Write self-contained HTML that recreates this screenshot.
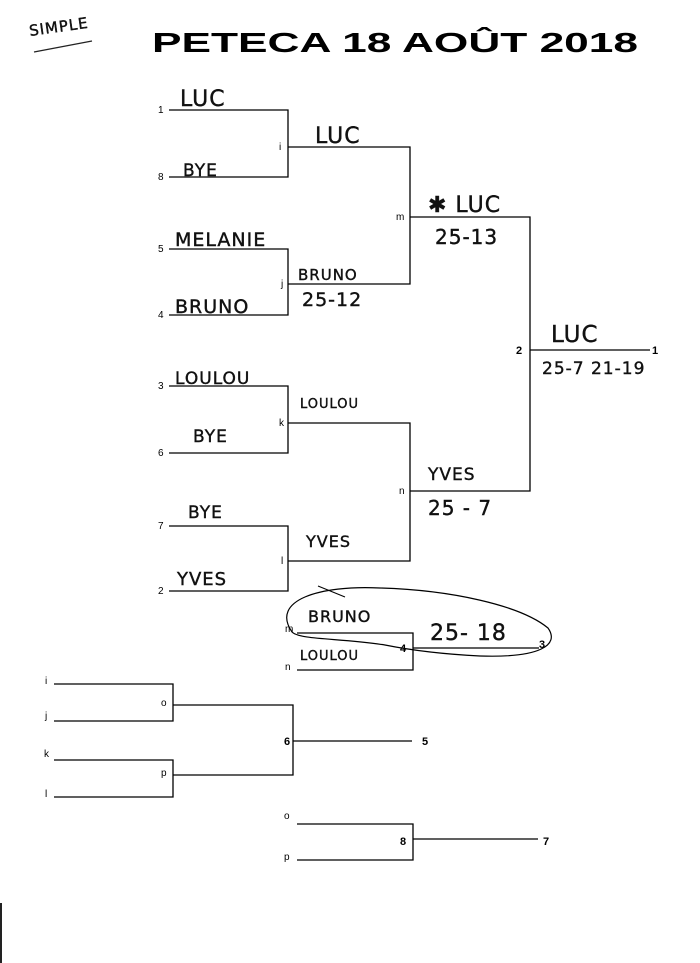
<!DOCTYPE html>
<html><head><meta charset="utf-8"><style>
html,body{margin:0;padding:0;background:#fff;width:700px;height:963px;overflow:hidden}
svg{display:block}
.n{font-family:"Liberation Sans",sans-serif;font-size:10px;fill:#000}
.b{font-family:"Liberation Sans",sans-serif;font-size:11px;font-weight:bold;fill:#000}
.h{font-family:"DejaVu Sans","Liberation Sans",sans-serif;fill:#111;stroke:#111;stroke-width:0.4;letter-spacing:1px}
</style></head><body>
<svg width="700" height="963" viewBox="0 0 700 963" xmlns="http://www.w3.org/2000/svg">
<rect x="0" y="903" width="2" height="60" fill="#222"/>
<text x="30" y="36" class="h" font-size="15" transform="rotate(-8 30 36)">SIMPLE</text>
<path d="M34 52 L92 41" stroke="#222" stroke-width="1.2" fill="none"/>
<text x="152" y="52" font-family="Liberation Sans,sans-serif" font-weight="bold" font-size="28" textLength="486" lengthAdjust="spacingAndGlyphs" fill="#000">PETECA 18 AOÛT 2018</text>
<g stroke="#000" stroke-width="1.3" fill="none">
<path d="M169 110H288V177H169M288 147H410V284H288M169 249H288V315H169M410 217H530V491H410M530 350H650"/>
<path d="M169 386H288V453H169M288 423H410V561H288M169 526H288V591H169"/>
<path d="M297 633H413V670H297M413 648H539"/>
<path d="M54 684H173V721H54M173 705H293V775H173M54 760H173V797H54M293 741H412"/>
<path d="M297 824H413V860H297M413 839H538"/>
<path d="M292 632 C270 600 320 585 380 588 C450 590 520 605 548 628 C560 645 540 658 480 656 C440 654 410 650 385 645 C340 638 300 640 292 632" stroke-width="1.2"/>
<path d="M318 586 L345 597" stroke-width="1"/>
</g>
<g class="n">
<text x="158" y="113">1</text><text x="158" y="180">8</text><text x="158" y="252">5</text><text x="158" y="318">4</text>
<text x="158" y="389">3</text><text x="158" y="456">6</text><text x="158" y="529">7</text><text x="158" y="594">2</text>
<text x="279" y="150">i</text><text x="281" y="287">j</text><text x="396" y="220">m</text>
<text x="279" y="426">k</text><text x="281" y="564">l</text><text x="399" y="494">n</text>
<text x="285" y="632">m</text><text x="285" y="670">n</text>
<text x="45" y="684">i</text><text x="45" y="719">j</text><text x="44" y="757">k</text><text x="45" y="797">l</text>
<text x="161" y="706">o</text><text x="161" y="776">p</text>
<text x="284" y="819">o</text><text x="284" y="860">p</text>
</g>
<g class="b">
<text x="516" y="354">2</text><text x="652" y="354">1</text>
<text x="400" y="652">4</text><text x="539" y="648">3</text>
<text x="284" y="745">6</text><text x="422" y="745">5</text>
<text x="400" y="845">8</text><text x="543" y="845">7</text>
</g>
<g class="h">
<text x="180" y="106" font-size="22">LUC</text>
<text x="183" y="176" font-size="17">BYE</text>
<text x="315" y="143" font-size="22">LUC</text>
<text x="175" y="246" font-size="19">MELANIE</text>
<text x="175" y="313" font-size="19">BRUNO</text>
<text x="298" y="280" font-size="15">BRUNO</text>
<text x="302" y="306" font-size="19">25-12</text>
<text x="428" y="212" font-size="22">✱ LUC</text>
<text x="435" y="244" font-size="20">25-13</text>
<text x="551" y="342" font-size="23">LUC</text>
<text x="542" y="374" font-size="17">25-7  21-19</text>
<text x="175" y="384" font-size="17">LOULOU</text>
<text x="193" y="442" font-size="17">BYE</text>
<text x="300" y="408" font-size="13">LOULOU</text>
<text x="188" y="518" font-size="17">BYE</text>
<text x="177" y="585" font-size="18">YVES</text>
<text x="306" y="547" font-size="16">YVES</text>
<text x="428" y="480" font-size="17">YVES</text>
<text x="428" y="515" font-size="20">25 - 7</text>
<text x="308" y="622" font-size="16">BRUNO</text>
<text x="300" y="660" font-size="13">LOULOU</text>
<text x="430" y="640" font-size="22">25- 18</text>
</g>
</svg>
</body></html>
